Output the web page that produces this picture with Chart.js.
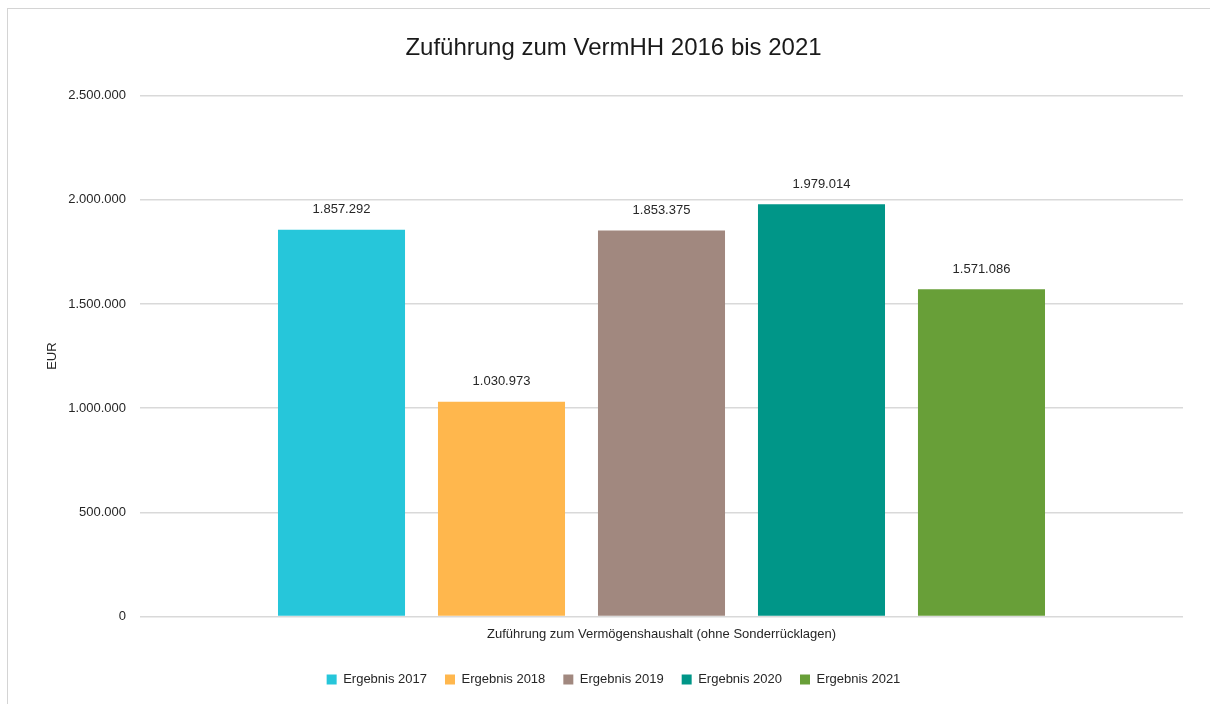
<!DOCTYPE html>
<html>
<head>
<meta charset="utf-8">
<script src="https://cdn.jsdelivr.net/npm/chart.js@4.4.0/dist/chart.umd.min.js"></script>
<style>
  html, body { margin: 0; padding: 0; background: #fff; }
  #wrap { position: relative; width: 1210px; height: 704px; overflow: hidden; }
  #frame { position: absolute; left: 7px; top: 8px; width: 1300px; height: 800px;
           border-left: 1px solid #d4d4d4; border-top: 1px solid #d4d4d4; pointer-events: none; }
  canvas { position: absolute; left: 0; top: 0; }
</style>
</head>
<body>
<div id="wrap">
  <canvas id="chart" width="1210" height="704"></canvas>
  <div id="frame"></div>
</div>
<script>
// chart data
const categories = ['Zuführung zum Vermögenshaushalt (ohne Sonderrücklagen)'];
const seriesNames = ['Ergebnis 2017', 'Ergebnis 2018', 'Ergebnis 2019', 'Ergebnis 2020', 'Ergebnis 2021'];
const seriesValues = [1857292, 1030973, 1853375, 1979014, 1571086];
const seriesColors = ['#26C6DA', '#FFB74D', '#A1887F', '#009688', '#689F38'];

const FONT = '"Liberation Sans", Arial, sans-serif';
const PAD_LEFT = 44;

// 1234567 -> 1.234.567
function fmt(v) {
  return String(Math.round(v)).replace(/\B(?=(\d{3})+(?!\d))/g, '.');
}

const valueLabels = {
  id: 'valueLabels',
  afterDatasetsDraw(chart) {
    const ctx = chart.ctx;
    ctx.save();
    ctx.font = '13px ' + FONT;
    ctx.fillStyle = '#262626';
    ctx.textAlign = 'center';
    ctx.textBaseline = 'middle';
    chart.data.datasets.forEach((ds, i) => {
      const meta = chart.getDatasetMeta(i);
      meta.data.forEach((bar, j) => {
        ctx.fillText(fmt(ds.data[j]), bar.x, bar.y - 20);
      });
    });
    ctx.restore();
  }
};

const datasets = seriesNames.map((name, i) => ({
  label: name,
  data: [seriesValues[i]],
  backgroundColor: seriesColors[i],
  borderWidth: 0,
  categoryPercentage: 0.767,
  barPercentage: 0.794
}));

new Chart(document.getElementById('chart'), {
  type: 'bar',
  data: { labels: categories, datasets },
  plugins: [valueLabels],
  options: {
    responsive: false,
    animation: false,
    layout: { padding: { left: PAD_LEFT, right: 27, top: 0, bottom: 8 } },
    plugins: {
      title: {
        display: true,
        text: 'Zuführung zum VermHH 2016 bis 2021',
        color: '#1a1a1a',
        font: { family: FONT, size: 24, weight: 'normal' },
        padding: { top: 34, bottom: 33 }
      },
      legend: {
        position: 'bottom',
        labels: {
          boxWidth: 10, boxHeight: 10,
          padding: 18,
          color: '#262626',
          font: { family: FONT, size: 13 }
        }
      },
      tooltip: { enabled: false }
    },
    scales: {
      x: {
        afterFit(scale) { scale.height += 3; },
        grid: { display: false, drawTicks: false },
        border: { display: false },
        ticks: { color: '#262626', font: { family: FONT, size: 13 }, padding: 10 }
      },
      y: {
        min: 0, max: 2500000,
        afterFit(scale) { scale.width = 140 - PAD_LEFT; },
        grid: { color: '#d9d9d9', lineWidth: 1.5, drawTicks: false },
        border: { display: false },
        ticks: {
          stepSize: 500000,
          padding: 14,
          color: '#262626',
          font: { family: FONT, size: 13 },
          callback: v => fmt(v)
        },
        title: {
          display: true,
          text: 'EUR',
          color: '#262626',
          font: { family: FONT, size: 13 },
          padding: { top: 1, bottom: 0 }
        }
      }
    }
  }
});
</script>
</body>
</html>
